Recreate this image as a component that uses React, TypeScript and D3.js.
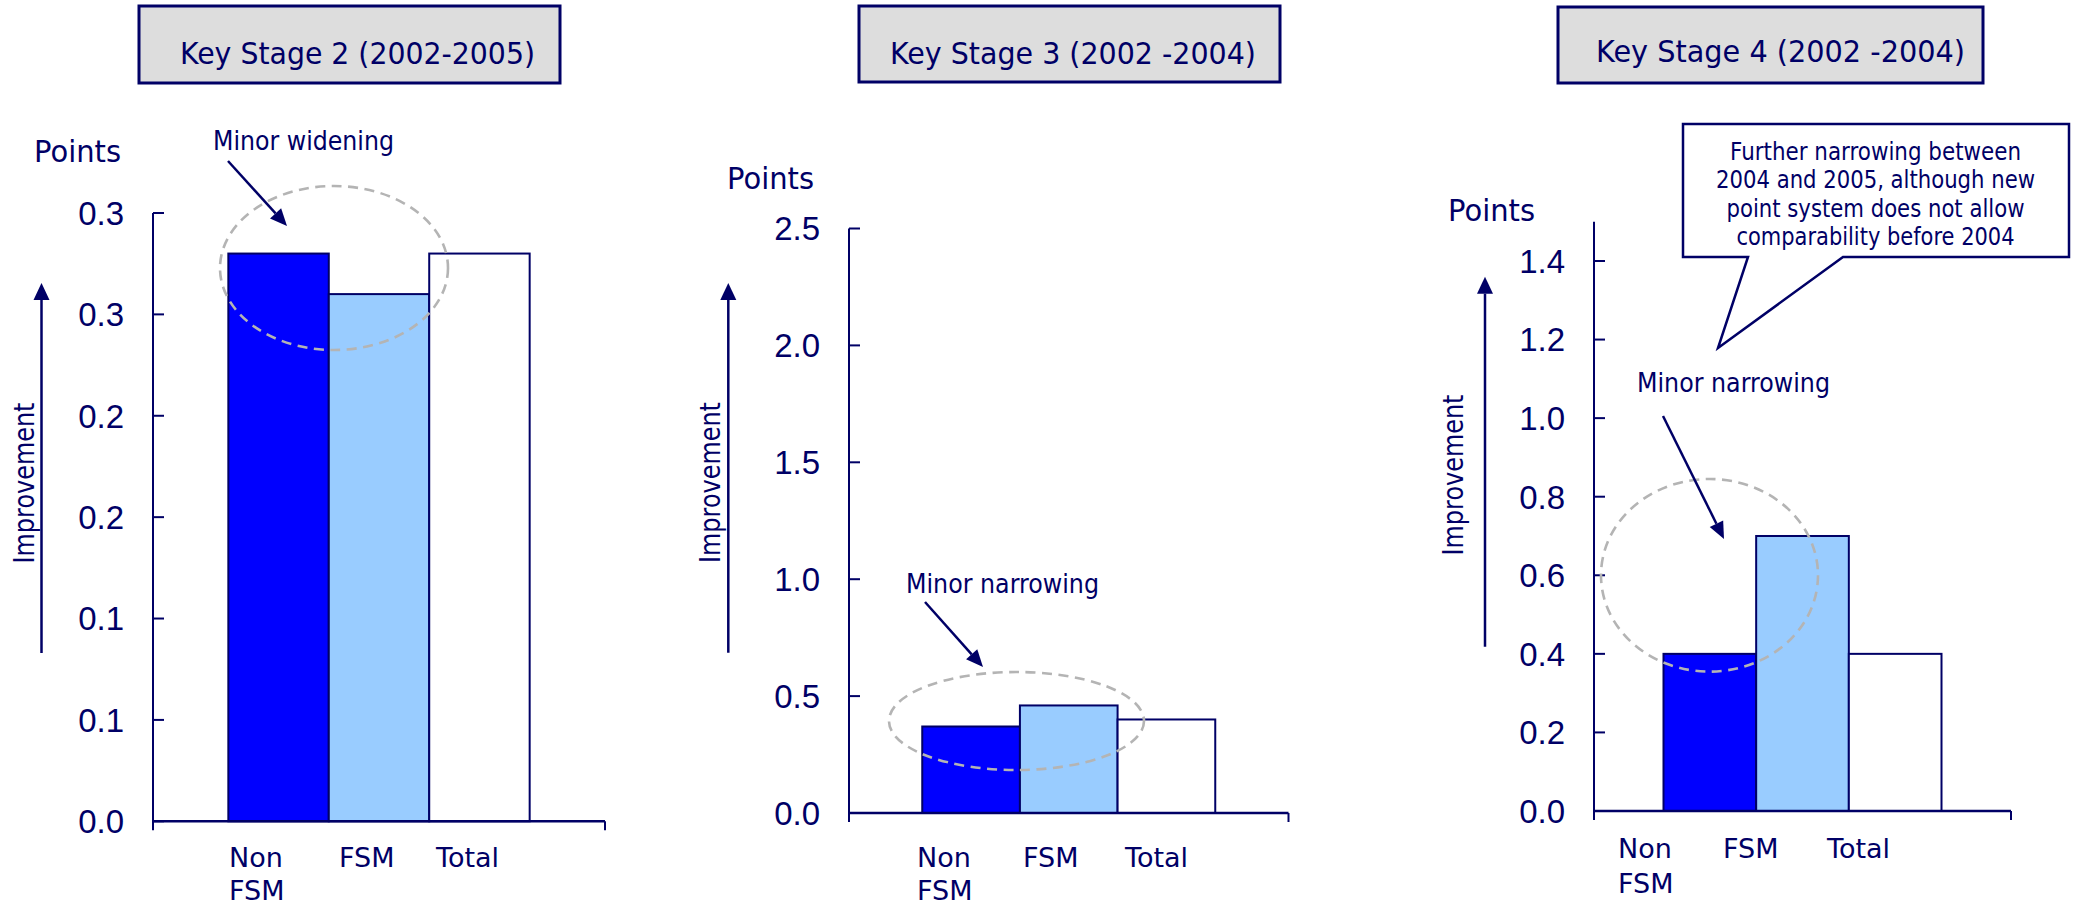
import React from "react";
import * as d3 from "d3";

// ---------- data ----------
const CATEGORIES = ["Non FSM", "FSM", "Total"];
const CATEGORY_LINES = [["Non", "FSM"], ["FSM"], ["Total"]];
const KS2_VALUES = [0.28, 0.26, 0.28];
const KS3_VALUES = [0.37, 0.46, 0.4];
const KS4_VALUES = [0.4, 0.7, 0.4];
const KS2_TICKS = [0, 0.05, 0.1, 0.15, 0.2, 0.25, 0.3];
const KS2_TICK_LABELS = ["0.0", "0.1", "0.1", "0.2", "0.2", "0.3", "0.3"];
const KS3_TICKS = [0, 0.5, 1.0, 1.5, 2.0, 2.5];
const KS3_TICK_LABELS = ["0.0", "0.5", "1.0", "1.5", "2.0", "2.5"];
const KS4_TICKS = [0, 0.2, 0.4, 0.6, 0.8, 1.0, 1.2, 1.4];
const KS4_TICK_LABELS = ["0.0", "0.2", "0.4", "0.6", "0.8", "1.0", "1.2", "1.4"];
const TITLES = ["Key Stage 2 (2002-2005)", "Key Stage 3 (2002 -2004)", "Key Stage 4 (2002 -2004)"];
const NOTES = ["Minor widening", "Minor narrowing", "Minor narrowing"];
const CALLOUT_LINES = [
  "Further narrowing between",
  "2004 and 2005, although new",
  "point system does not allow",
  "comparability before 2004",
];
const BAR_COLORS = ["#0000FF", "#99CCFF", "#FFFFFF"];

// ---------- style / layout ----------
const NAVY = "#000066";
const SANS = "DejaVu Sans, Verdana, sans-serif";
const ARIAL = "Liberation Sans, Arial, sans-serif";

const PANELS = [
  {
    values: KS2_VALUES, ticks: KS2_TICKS, tickLabels: KS2_TICK_LABELS, domainMax: 0.3,
    title: TITLES[0], note: NOTES[0],
    axisX: 153, axisRight: 605, yBottom: 821.3, yTop: 213,
    titleBox: [139, 6, 560, 83], titleX: 180, titleY: 64, titleLen: 355,
    pointsX: 34, pointsY: 162,
    impX: 33.5, impY: 483, arrowX: 41.5, arrowTop: 283, arrowBottom: 653,
    noteX: 213, noteY: 150, noteLen: 181, noteArrow: [228, 161, 287, 226],
    ellipse: [334, 268, 114, 82],
    labelX: 229, labelDx: [0, 110, 207], labelY: 867, labelY2: 900,
  },
  {
    values: KS3_VALUES, ticks: KS3_TICKS, tickLabels: KS3_TICK_LABELS, domainMax: 2.5,
    title: TITLES[1], note: NOTES[1],
    axisX: 849, axisRight: 1288.5, yBottom: 813, yTop: 228.5,
    titleBox: [859, 6, 1280, 82], titleX: 890, titleY: 64, titleLen: 366,
    pointsX: 727, pointsY: 189,
    impX: 720, impY: 482.5, arrowX: 728.3, arrowTop: 283, arrowBottom: 652.7,
    noteX: 906, noteY: 593, noteLen: 193, noteArrow: [925, 602, 983, 667],
    ellipse: [1016.5, 721, 127.5, 49],
    labelX: 917, labelDx: [0, 106, 208], labelY: 867, labelY2: 900,
  },
  {
    values: KS4_VALUES, ticks: KS4_TICKS, tickLabels: KS4_TICK_LABELS, domainMax: 1.5,
    title: TITLES[2], note: NOTES[2],
    axisX: 1594, axisRight: 2011, yBottom: 811, yTop: 221.7,
    titleBox: [1558, 7, 1983, 83], titleX: 1596, titleY: 62, titleLen: 369,
    pointsX: 1448, pointsY: 221,
    impX: 1462.7, impY: 475, arrowX: 1485, arrowTop: 276.7, arrowBottom: 646.7,
    noteX: 1637, noteY: 392, noteLen: 193, noteArrow: [1663, 416, 1724, 539],
    ellipse: [1709.5, 575.3, 108.5, 96.3],
    labelX: 1618, labelDx: [0, 105, 209], labelY: 858, labelY2: 893,
  },
];

function Arrow({ x1, y1, x2, y2, head = 16, width = 15, sw = 2.5 }: any) {
  const ang = Math.atan2(y2 - y1, x2 - x1);
  const bx = x2 - head * Math.cos(ang);
  const by = y2 - head * Math.sin(ang);
  const px = -Math.sin(ang) * (width / 2);
  const py = Math.cos(ang) * (width / 2);
  return (
    <g>
      <line x1={x1} y1={y1} x2={bx} y2={by} stroke={NAVY} strokeWidth={sw} />
      <polygon points={`${x2},${y2} ${bx + px},${by + py} ${bx - px},${by - py}`} fill={NAVY} />
    </g>
  );
}

function Panel({ p }: any) {
  const x = d3.scaleBand<string>().domain(CATEGORIES).range([p.axisX, p.axisRight]).paddingInner(0).paddingOuter(0.75);
  const y = d3.scaleLinear().domain([0, p.domainMax]).range([p.yBottom, p.yTop]);
  const y0 = y(0);
  const [bx0, by0, bx1, by1] = p.titleBox;
  const [ex, ey, erx, ery] = p.ellipse;
  const [ax1, ay1, ax2, ay2] = p.noteArrow;
  return (
    <g>
      {/* title box */}
      <rect x={bx0} y={by0} width={bx1 - bx0} height={by1 - by0} fill="#DDDDDD" stroke={NAVY} strokeWidth={3} />
      <text x={p.titleX} y={p.titleY} fontFamily={SANS} fontSize={30} fill={NAVY}
        textLength={p.titleLen} lengthAdjust="spacingAndGlyphs">{p.title}</text>

      {/* Points label */}
      <text x={p.pointsX} y={p.pointsY} fontFamily={SANS} fontSize={31} fill={NAVY}
        textLength={87} lengthAdjust="spacingAndGlyphs">Points</text>

      {/* Improvement arrow + label */}
      <Arrow x1={p.arrowX} y1={p.arrowBottom} x2={p.arrowX} y2={p.arrowTop} head={17} width={16} sw={2.5} />
      <text transform={`translate(${p.impX},${p.impY}) rotate(-90)`} textAnchor="middle" fontFamily={SANS}
        fontSize={29} fill={NAVY} textLength={161} lengthAdjust="spacingAndGlyphs">Improvement</text>

      {/* bars */}
      {CATEGORIES.map((c, i) => (
        <rect key={c} x={x(c)} y={y(p.values[i])} width={x.bandwidth()} height={y0 - y(p.values[i])}
          fill={BAR_COLORS[i]} stroke={NAVY} strokeWidth={2} />
      ))}

      {/* y axis */}
      <line x1={p.axisX} y1={y(p.domainMax)} x2={p.axisX} y2={y0 + 9} stroke={NAVY} strokeWidth={2} />
      {p.ticks.map((t: number, i: number) => (
        <g key={i}>
          <line x1={p.axisX} x2={p.axisX + 11} y1={y(t)} y2={y(t)} stroke={NAVY} strokeWidth={2} />
          <text x={p.axisX - 29} y={y(t)} dy="0.36em" textAnchor="end" fontFamily={ARIAL} fontSize={33} fill={NAVY}>
            {p.tickLabels[i]}
          </text>
        </g>
      ))}
      {/* x axis */}
      <line x1={p.axisX} y1={y0} x2={p.axisRight} y2={y0} stroke={NAVY} strokeWidth={2.5} />
      <line x1={p.axisRight} y1={y0} x2={p.axisRight} y2={y0 + 9} stroke={NAVY} strokeWidth={2} />

      {/* category labels */}
      {CATEGORY_LINES.map((lines, i) =>
        lines.map((ln, j) => (
          <text key={`${i}-${j}`} x={p.labelX + p.labelDx[i]} y={j === 0 ? p.labelY : p.labelY2}
            fontFamily={SANS} fontSize={27} fill={NAVY}>{ln}</text>
        ))
      )}

      {/* annotation */}
      <ellipse cx={ex} cy={ey} rx={erx} ry={ery} fill="none" stroke="#B4B4B4" strokeWidth={2.6} strokeDasharray="10 6.5" />
      <text x={p.noteX} y={p.noteY} fontFamily={SANS} fontSize={26} fill={NAVY}
        textLength={p.noteLen} lengthAdjust="spacingAndGlyphs">{p.note}</text>
      <Arrow x1={ax1} y1={ay1} x2={ax2} y2={ay2} head={17} width={15} sw={2.5} />
    </g>
  );
}

const CALLOUT_LENS = [291, 319, 298, 278];
const CALLOUT_BASELINES = [160, 188.3, 216.6, 245];

export default function App() {
  return (
    <svg width={2073} height={905} style={{ position: "absolute", left: 0, top: 0, background: "#fff" }}>
      <rect x={0} y={0} width={2073} height={905} fill="#fff" />
      {PANELS.map((p, i) => (
        <Panel key={i} p={p} />
      ))}
      {/* callout for Key Stage 4 */}
      <path d="M1683,124 H2069 V257 H1843 L1718,348 L1748,257 H1683 Z" fill="#fff" stroke={NAVY} strokeWidth={2.5} />
      {CALLOUT_LINES.map((ln, i) => (
        <text key={i} x={1875.5} y={CALLOUT_BASELINES[i]} textAnchor="middle" fontFamily={SANS} fontSize={24}
          fill={NAVY} textLength={CALLOUT_LENS[i]} lengthAdjust="spacingAndGlyphs">{ln}</text>
      ))}
    </svg>
  );
}
